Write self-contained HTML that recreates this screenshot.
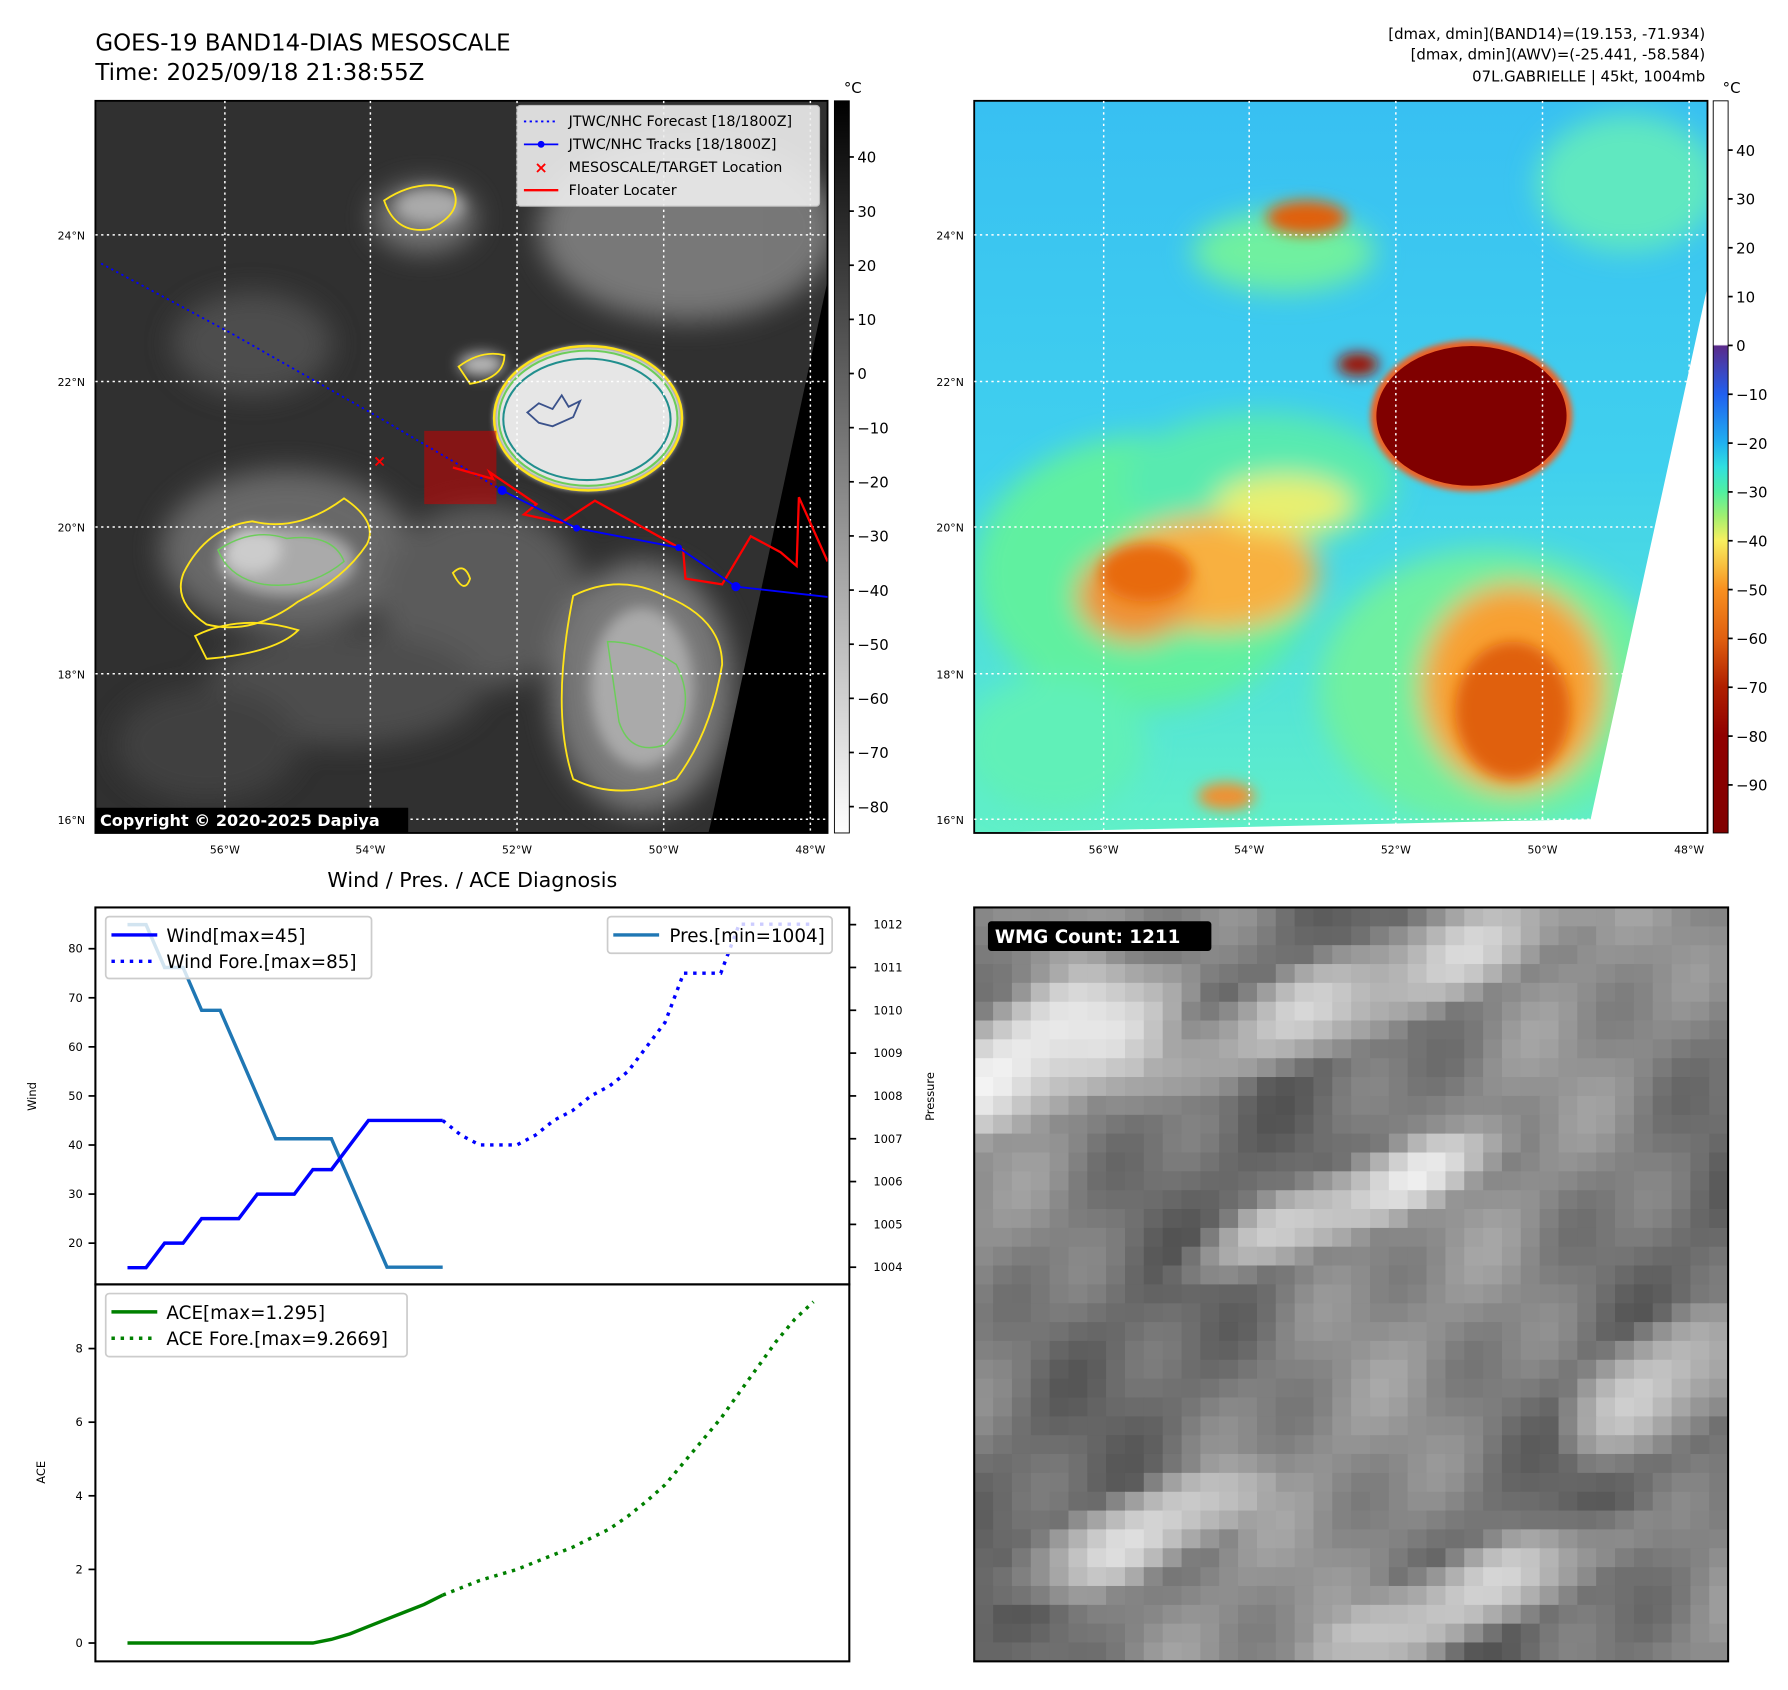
<!DOCTYPE html>
<html><head><meta charset="utf-8"><style>
html,body{margin:0;padding:0;background:#fff;}
svg{display:block;font-family:"DejaVu Sans","Liberation Sans",sans-serif;}
</style></head><body>
<svg id="fig" width="1788" height="1690" viewBox="0 0 1560 1475" xmlns="http://www.w3.org/2000/svg">
<defs>
<filter id="b6"><feGaussianBlur stdDeviation="6"/></filter>
<filter id="b12"><feGaussianBlur stdDeviation="12"/></filter>
<filter id="b3"><feGaussianBlur stdDeviation="2.5"/></filter>
<clipPath id="clipL"><rect x="83" y="88" width="639" height="639"/></clipPath>
<clipPath id="clipR"><rect x="850" y="88" width="640" height="639"/></clipPath>
<clipPath id="clipW"><rect x="850" y="792" width="658" height="658"/></clipPath>
<clipPath id="clipC"><rect x="83" y="792" width="658" height="658"/></clipPath>
<linearGradient id="cbL" x1="0" y1="0" x2="0" y2="1">
<stop offset="0" stop-color="#000"/><stop offset="1" stop-color="#fff"/></linearGradient>
<linearGradient id="cbR" x1="0" y1="0" x2="0" y2="1">
<stop offset="0" stop-color="#ffffff"/><stop offset="0.333" stop-color="#ffffff"/>
<stop offset="0.335" stop-color="#5a2a8a"/><stop offset="0.401" stop-color="#2060f0"/>
<stop offset="0.467" stop-color="#20b0f0"/><stop offset="0.50" stop-color="#30e0e0"/>
<stop offset="0.534" stop-color="#50f0a0"/><stop offset="0.567" stop-color="#a0f070"/>
<stop offset="0.60" stop-color="#f8f060"/><stop offset="0.634" stop-color="#f8c040"/>
<stop offset="0.667" stop-color="#f89020"/><stop offset="0.734" stop-color="#e06010"/>
<stop offset="0.80" stop-color="#b02000"/><stop offset="0.867" stop-color="#900000"/>
<stop offset="1" stop-color="#800000"/></linearGradient>
<linearGradient id="seaR" x1="0" y1="0" x2="0" y2="1">
<stop offset="0" stop-color="#38c0f2"/><stop offset="0.5" stop-color="#40d0ee"/><stop offset="1" stop-color="#60f0c8"/></linearGradient>
</defs>

<text x="83" y="44" font-size="20">GOES-19 BAND14-DIAS MESOSCALE</text>
<text x="83" y="70" font-size="20">Time: 2025/09/18 21:38:55Z</text>
<g font-size="13" text-anchor="end">
<text x="1488" y="34">[dmax, dmin](BAND14)=(19.153, -71.934)</text>
<text x="1488" y="52">[dmax, dmin](AWV)=(-25.441, -58.584)</text>
<text x="1488" y="71">07L.GABRIELLE | 45kt, 1004mb</text>
</g>

<g clip-path="url(#clipL)">
<rect x="83" y="88" width="639" height="639" fill="#303030"/>
<g filter="url(#b12)" fill="#777" opacity="0.8">
<ellipse cx="600" cy="200" rx="130" ry="80" fill="#8a8a8a"/>
<ellipse cx="250" cy="480" rx="110" ry="70"/>
<ellipse cx="420" cy="520" rx="90" ry="80" fill="#666"/>
<ellipse cx="560" cy="600" rx="80" ry="110" fill="#8a8a8a"/>
<ellipse cx="300" cy="600" rx="120" ry="50" fill="#555"/>
<ellipse cx="370" cy="190" rx="45" ry="30" fill="#888"/>
<ellipse cx="220" cy="300" rx="70" ry="45" fill="#555"/>
<ellipse cx="180" cy="650" rx="80" ry="50" fill="#444"/>
</g>
<g filter="url(#b6)">
<ellipse cx="250" cy="490" rx="60" ry="30" fill="#aaa"/>
<ellipse cx="220" cy="480" rx="25" ry="20" fill="#ccc"/>
<ellipse cx="560" cy="600" rx="45" ry="70" fill="#aaa"/>
<ellipse cx="420" cy="318" rx="20" ry="10" fill="#bbb"/>
<ellipse cx="375" cy="180" rx="30" ry="15" fill="#aaa"/>
</g>
<ellipse cx="513" cy="365" rx="82" ry="63" fill="#e6e6e6" filter="url(#b3)"/>
<ellipse cx="513" cy="365" rx="82" ry="63" fill="none" stroke="#ffe419" stroke-width="2.2"/>
<ellipse cx="513" cy="365" rx="78" ry="59" fill="none" stroke="#6ccd5a" stroke-width="1.8"/>
<ellipse cx="512" cy="366" rx="73" ry="53" fill="none" stroke="#218f8d" stroke-width="1.8"/>
<path d="M460 360 l10 -8 l12 5 l8 -12 l6 10 l10 -5 l-6 14 l-18 8 l-12 -3z" fill="none" stroke="#3b528b" stroke-width="1.6"/>
<g fill="none" stroke="#ffe419" stroke-width="1.6">
<path d="M160 500 q20 -40 60 -45 q40 10 80 -20 q30 20 20 40 q-20 30 -60 50 q-40 30 -80 20 q-30 -20 -20 -45z"/>
<path d="M500 520 q40 -20 80 0 q50 20 50 60 q-10 60 -40 100 q-50 20 -90 0 q-20 -60 0 -160z"/>
<path d="M400 320 q20 -15 40 -10 q0 20 -30 25z"/>
<path d="M335 175 q30 -20 60 -10 q10 20 -20 35 q-30 5 -40 -25z"/>
<path d="M395 500 q10 -10 15 5 q-5 15 -15 -5z"/>
<path d="M170 555 q40 -20 90 -5 q-20 20 -80 25z"/>
</g>
<g fill="none" stroke="#6ccd5a" stroke-width="1.3">
<path d="M190 480 q30 -20 60 -10 q40 -5 50 20 q-30 25 -70 20 q-30 -5 -40 -30z"/>
<path d="M530 560 q30 0 60 20 q20 40 -10 70 q-30 10 -40 -20z"/>
</g>
<polygon points="722,245 722,727 618,727 621,715" fill="#000"/>
</g>
<rect x="83" y="88" width="639" height="639" fill="none" stroke="#000" stroke-width="1.6"/>
<g stroke="#fff" stroke-width="1.3" stroke-dasharray="2,3" clip-path="url(#clipL)">
<line x1="196" y1="88" x2="196" y2="727"/><line x1="323" y1="88" x2="323" y2="727"/><line x1="451" y1="88" x2="451" y2="727"/><line x1="579" y1="88" x2="579" y2="727"/><line x1="707" y1="88" x2="707" y2="727"/>
<line x1="83" y1="205" x2="722" y2="205"/><line x1="83" y1="333" x2="722" y2="333"/><line x1="83" y1="460" x2="722" y2="460"/><line x1="83" y1="588" x2="722" y2="588"/><line x1="83" y1="715" x2="722" y2="715"/>
</g>
<g clip-path="url(#clipL)">
<rect x="370" y="376" width="63" height="64" fill="#c00" opacity="0.55"/>
<polyline points="88,230 200,290 323,360 438,428" fill="none" stroke="#00f" stroke-width="1.6" stroke-dasharray="2,3"/>
<polyline points="395,408 430,418 427,412 468,440 457,449 490,456 519,437 596,480 598,505 630,510 655,468 681,482 695,494 697,434 722,490" fill="none" stroke="#f00" stroke-width="2"/>
<polyline points="438,428 503,461 592,478 642,512 722,521" fill="none" stroke="#00f" stroke-width="1.6"/>
<g fill="#00f"><circle cx="438" cy="428" r="4"/><circle cx="503" cy="461" r="3"/><circle cx="592" cy="478" r="3"/><circle cx="642" cy="512" r="4"/></g>
<text x="331" y="407" font-size="14" fill="#f00" text-anchor="middle" font-weight="bold">×</text>
</g>
<g font-size="12.5">
<rect x="451" y="92" width="264" height="88" rx="3" fill="#eee" opacity="0.9" stroke="#ccc"/>
<line x1="457" y1="106" x2="487" y2="106" stroke="#00f" stroke-width="1.6" stroke-dasharray="2,3"/><text x="496" y="110">JTWC/NHC Forecast [18/1800Z]</text>
<line x1="457" y1="126" x2="487" y2="126" stroke="#00f" stroke-width="1.6"/><circle cx="472" cy="126" r="3" fill="#00f"/><text x="496" y="130">JTWC/NHC Tracks [18/1800Z]</text>
<text x="472" y="151" fill="#f00" font-size="14" text-anchor="middle" font-weight="bold">×</text><text x="496" y="150">MESOSCALE/TARGET Location</text>
<line x1="457" y1="166" x2="487" y2="166" stroke="#f00" stroke-width="2"/><text x="496" y="170">Floater Locater</text>
</g>
<g>
<rect x="83" y="705" width="273" height="22" fill="#000"/>
<text x="87" y="721" font-size="14" font-weight="bold" fill="#fff">Copyright © 2020-2025 Dapiya</text>
</g>
<g font-size="9.5" text-anchor="middle">
<text x="196" y="745">56°W</text><text x="323" y="745">54°W</text><text x="451" y="745">52°W</text><text x="579" y="745">50°W</text><text x="707" y="745">48°W</text>
<text x="62" y="209">24°N</text><text x="62" y="337">22°N</text><text x="62" y="464">20°N</text><text x="62" y="592">18°N</text><text x="62" y="719">16°N</text>
</g>
<g>
<rect x="728" y="88" width="13" height="639" fill="url(#cbL)" stroke="#000" stroke-width="0.8"/>
<text x="744" y="81" font-size="13" text-anchor="middle">°C</text>
<g id="cbLticks" font-size="13"></g>
</g>

<g clip-path="url(#clipR)">
<rect x="850" y="88" width="640" height="639" fill="url(#seaR)"/>
<g filter="url(#b12)">
<ellipse cx="1000" cy="500" rx="150" ry="120" fill="#60f0a0"/>
<ellipse cx="1300" cy="600" rx="150" ry="120" fill="#70f0a0"/>
<ellipse cx="1100" cy="420" rx="120" ry="60" fill="#58eab0"/>
<ellipse cx="920" cy="650" rx="80" ry="60" fill="#60f0b8"/>
<ellipse cx="1420" cy="160" rx="80" ry="60" fill="#60e8c0"/>
<ellipse cx="1120" cy="220" rx="80" ry="35" fill="#70f0a0"/>
<ellipse cx="1060" cy="500" rx="90" ry="50" fill="#f8b040"/>
<ellipse cx="990" cy="520" rx="50" ry="40" fill="#f09030"/>
<ellipse cx="1320" cy="600" rx="80" ry="90" fill="#f8a030"/>
<ellipse cx="1120" cy="440" rx="60" ry="25" fill="#e8f070"/>
</g>
<g filter="url(#b6)">
<ellipse cx="1000" cy="500" rx="40" ry="25" fill="#e86a10"/>
<ellipse cx="1320" cy="620" rx="50" ry="60" fill="#e06010"/>
<ellipse cx="1140" cy="190" rx="35" ry="15" fill="#e06010"/>
<ellipse cx="1185" cy="318" rx="18" ry="10" fill="#a01000"/>
<ellipse cx="1070" cy="695" rx="25" ry="12" fill="#f09030"/>
</g>
<ellipse cx="1284" cy="363" rx="88" ry="66" fill="#f06020" filter="url(#b3)"/>
<ellipse cx="1284" cy="363" rx="83" ry="61" fill="#800000"/>
<polygon points="1490,250 1490,727 1385,727 1388,715" fill="#fff"/>
<polygon points="850,727 1388,715 1390,727" fill="#fff"/>
</g>
<rect x="850" y="88" width="640" height="639" fill="none" stroke="#000" stroke-width="1.6"/>
<g stroke="#fff" stroke-width="1.3" stroke-dasharray="2,3" clip-path="url(#clipR)">
<line x1="963" y1="88" x2="963" y2="727"/><line x1="1090" y1="88" x2="1090" y2="727"/><line x1="1218" y1="88" x2="1218" y2="727"/><line x1="1346" y1="88" x2="1346" y2="727"/><line x1="1474" y1="88" x2="1474" y2="727"/>
<line x1="850" y1="205" x2="1490" y2="205"/><line x1="850" y1="333" x2="1490" y2="333"/><line x1="850" y1="460" x2="1490" y2="460"/><line x1="850" y1="588" x2="1490" y2="588"/><line x1="850" y1="715" x2="1490" y2="715"/>
</g>
<g font-size="9.5" text-anchor="middle">
<text x="963" y="745">56°W</text><text x="1090" y="745">54°W</text><text x="1218" y="745">52°W</text><text x="1346" y="745">50°W</text><text x="1474" y="745">48°W</text>
<text x="829" y="209">24°N</text><text x="829" y="337">22°N</text><text x="829" y="464">20°N</text><text x="829" y="592">18°N</text><text x="829" y="719">16°N</text>
</g>
<g>
<rect x="1495" y="88" width="13" height="639" fill="url(#cbR)" stroke="#000" stroke-width="0.8"/>
<text x="1511" y="81" font-size="13" text-anchor="middle">°C</text>
<g id="cbRticks" font-size="13"></g>
</g>

<text x="412" y="774" font-size="18" text-anchor="middle">Wind / Pres. / ACE Diagnosis</text>
<g id="chart"></g>
<rect x="83" y="792" width="658" height="329" fill="none" stroke="#000" stroke-width="1.8"/>
<rect x="83" y="1121" width="658" height="329" fill="none" stroke="#000" stroke-width="1.8"/>
<text x="31" y="957" font-size="10" text-anchor="middle" transform="rotate(-90 31 957)">Wind</text>
<text x="815" y="957" font-size="10" text-anchor="middle" transform="rotate(-90 815 957)">Pressure</text>
<text x="39" y="1285" font-size="10" text-anchor="middle" transform="rotate(-90 39 1285)">ACE</text>
<g font-size="16">
<rect x="92" y="800" width="232" height="54" rx="3" fill="#fff" fill-opacity="0.8" stroke="#ccc" stroke-width="1.5"/>
<line x1="97" y1="816" x2="137" y2="816" stroke="#00f" stroke-width="3"/><text x="145" y="822">Wind[max=45]</text>
<line x1="97" y1="839" x2="137" y2="839" stroke="#00f" stroke-width="3" stroke-dasharray="3,5"/><text x="145" y="845">Wind Fore.[max=85]</text>
</g>
<g font-size="16">
<rect x="530" y="800" width="196" height="32" rx="3" fill="#fff" fill-opacity="0.8" stroke="#ccc" stroke-width="1.5"/>
<line x1="535" y1="816" x2="575" y2="816" stroke="#1f77b4" stroke-width="3"/><text x="584" y="822">Pres.[min=1004]</text>
</g>
<g font-size="16">
<rect x="92" y="1129" width="263" height="55" rx="3" fill="#fff" fill-opacity="0.8" stroke="#ccc" stroke-width="1.5"/>
<line x1="97" y1="1145" x2="137" y2="1145" stroke="#008000" stroke-width="3"/><text x="145" y="1151">ACE[max=1.295]</text>
<line x1="97" y1="1168" x2="137" y2="1168" stroke="#008000" stroke-width="3" stroke-dasharray="3,5"/><text x="145" y="1174">ACE Fore.[max=9.2669]</text>
</g>

<g id="wmg" clip-path="url(#clipW)"></g>
<rect x="850" y="792" width="658" height="658" fill="none" stroke="#000" stroke-width="1.8"/>
<g>
<rect x="862" y="804" width="195" height="26" rx="3" fill="#000"/>
<text x="868" y="823" font-size="16" font-weight="bold" fill="#fff">WMG Count: 1211</text>
</g>
</svg>
<script>
const NS='http://www.w3.org/2000/svg';
const windObs=[15,15,20,20,25,25,25,30,30,30,35,35,40,45,45,45,45,45];
const windFore=[45,42,40,40,40,42,45,47,50,52,55,60,65,75,75,75,85,85,85,85,85];
const presObs=[1012,1012,1011,1011,1010,1010,1009,1008,1007,1007,1007,1007,1006,1005,1004,1004,1004,1004];
const aceObs=[0,0,0,0,0,0,0,0,0,0,0,0.1,0.25,0.45,0.65,0.85,1.05,1.3];
const aceFore=[1.3,1.5,1.7,1.85,2.0,2.2,2.4,2.6,2.85,3.1,3.45,3.85,4.3,4.9,5.5,6.1,6.8,7.5,8.2,8.8,9.27];
const windTicks=[20,30,40,50,60,70,80];
const presTicks=[1004,1005,1006,1007,1008,1009,1010,1011,1012];
const aceTicks=[0,2,4,6,8];
const cbLTicks=[40,30,20,10,0,-10,-20,-30,-40,-50,-60,-70,-80];
const cbRTicks=[40,30,20,10,0,-10,-20,-30,-40,-50,-60,-70,-80,-90];

const foreStart=windObs.length-1;
const xs=i=>111+i*16.18;
const yW=v=>1085-(v-20)*4.283;
const yP=v=>1106-(v-1004)*37.375;
const yA=v=>1434-v*32.125;
const yCL=v=>137+(40-v)*4.725;
const yCR=v=>131+(40-v)*4.262;
const chart=document.getElementById('chart');
function mk(tag,attrs,parent){const e=document.createElementNS(NS,tag);for(const k in attrs)e.setAttribute(k,attrs[k]);(parent||chart).appendChild(e);return e;}
function line(vals,off,yf,color,dash,name,w){
  const pts=vals.map((v,i)=>xs(i+off).toFixed(1)+','+yf(v).toFixed(1)).join(' ');
  const p=mk('polyline',{points:pts,fill:'none',stroke:color,'stroke-width':w||3});
  if(dash)p.setAttribute('stroke-dasharray',dash);
  
  
}
line(presObs,0,yP,'#1f77b4',null,'pressure-line');
line(windObs,0,yW,'#0000ff',null,'wind-line');
line(windFore,foreStart,yW,'#0000ff','3,5','wind-forecast-line');
line(aceObs,0,yA,'#008000',null,'ace-line');
line(aceFore,foreStart,yA,'#008000','3,5','ace-forecast-line');
function tick(x1,x2,y,label,anchor,tx,parent,name){
  const t=mk('line',{x1:x1,x2:x2,y1:y,y2:y,stroke:'#000','stroke-width':1.5},parent);
  
  
  const s=mk('text',{x:tx,y:y+3.5,'text-anchor':anchor,'font-size':10},parent);
  s.textContent=label;
  
  
  return s;
}
windTicks.forEach(v=>tick(77,83,yW(v),v,'end',72,chart,'wind'));
presTicks.forEach(v=>tick(741,747,yP(v),v,'start',762,chart,'pressure'));
aceTicks.forEach(v=>tick(77,83,yA(v),v,'end',72,chart,'ace'));
const cl=document.getElementById('cbLticks');
cbLTicks.forEach(v=>{const s=tick(741,745,yCL(v),v<0?'\u2212'+(-v):v,'start',748,cl,'left-colorbar');s.setAttribute('font-size',13);s.setAttribute('y',yCL(v)+5);});
const cr=document.getElementById('cbRticks');
cbRTicks.forEach(v=>{const s=tick(1508,1512,yCR(v),v<0?'\u2212'+(-v):v,'start',1515,cr,'right-colorbar');s.setAttribute('font-size',13);s.setAttribute('y',yCR(v)+5);});

const wmg=document.getElementById('wmg');
const N=41,cs=658/40;
const light=[[0.08,0.18,0.22,0.1],[0.5,0.1,0.35,0.08],[0.48,0.38,0.25,0.06],[0.2,0.82,0.2,0.07],[0.65,0.9,0.25,0.07],[0.9,0.62,0.15,0.1]];
let html='';
for(let r=0;r<N;r++){for(let c=0;c<N;c++){
  const u=c/40,v=r/40;
  let g=125+22*Math.sin(u*9+v*5)+12*Math.sin(u*23-v*17)+10*Math.cos(u*37+v*29);
  light.forEach(L=>{const dx=(u-L[0])/L[2],dy=(v-L[1]+0.4*(u-L[0]))/L[3];const d=dx*dx+dy*dy;if(d<1)g+=95*(1-d);});
  g=Math.max(50,Math.min(250,Math.round(g)));
  html+=`<rect x="${(850+c*cs).toFixed(1)}" y="${(792+r*cs).toFixed(1)}" width="${(cs+0.6).toFixed(1)}" height="${(cs+0.6).toFixed(1)}" fill="rgb(${g},${g},${g})"/>`;
}}
wmg.innerHTML=html;
</script>
</body></html>
